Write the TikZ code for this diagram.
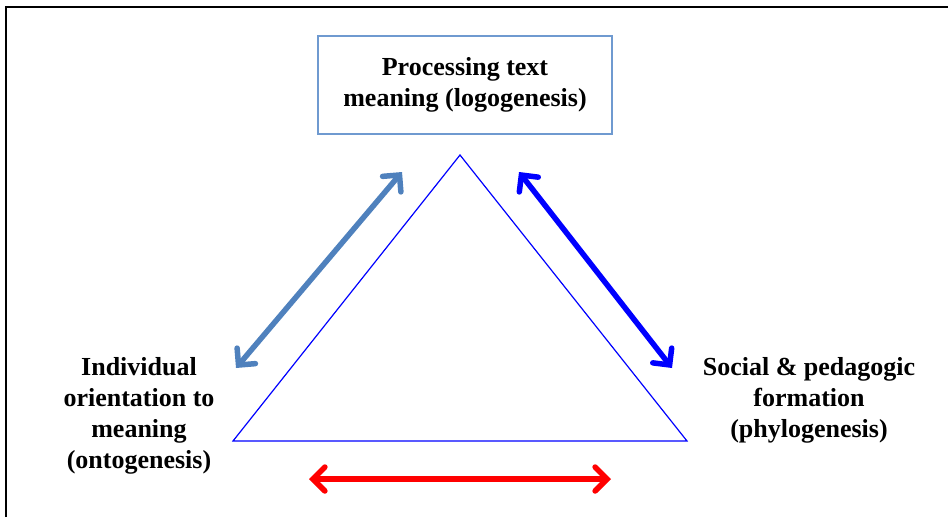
\documentclass[tikz,border=0pt]{standalone}
\usepackage{fontspec}
\setmainfont{Liberation Serif}
\usetikzlibrary{arrows.meta,positioning,calc}
\definecolor{boxline}{HTML}{6F9AD0}
\definecolor{steel}{HTML}{4F81BD}
\definecolor{tri}{HTML}{0000FF}
\definecolor{hot}{HTML}{FF0000}

\begin{document}
\begin{tikzpicture}[
  x=1pt, y=-1pt,
  font=\fontsize{26}{31}\selectfont\bfseries,
  label/.style={align=center, inner sep=0pt},
  topbox/.style={draw=boxline, line width=1.5pt, align=center,
    minimum width=294pt, minimum height=98pt, inner sep=0pt},
  dbl/.style={{Straight Barb[length=12pt,width=24pt,line cap=round]}-{Straight Barb[length=12pt,width=24pt,line cap=round]},
    line width=5.5pt, line cap=round}
]
\useasboundingbox (0,0) rectangle (948,517);

% frame
\draw[line width=1.5pt] (6,517) -- (6,7) -- (948,7);

% corners
\node[topbox] (logo) at (465,85) {Processing text\\meaning (logogenesis)};
\node[label] (onto) at (139,416) {Individual\\orientation to\\meaning\\(ontogenesis)};
\node[label] (phylo) at (809,400) {Social \& pedagogic\\formation\\(phylogenesis)};

% triangle
\coordinate (apex) at (460,155);
\coordinate (bl) at (233,441);
\coordinate (br) at (687,441);
\draw[tri, line width=1.2pt, line join=miter] (apex) -- (br) -- (bl) -- cycle;

% arrows
\coordinate (la) at (236,368);
\coordinate (lb) at (402,172);
\coordinate (ra) at (519,172);
\coordinate (rb) at (672,368);
\coordinate (ba) at (309,479);
\coordinate (bb) at (611,479);
\draw[dbl, steel] (la) -- (lb);
\draw[dbl, tri] (ra) -- (rb);
\draw[dbl, hot] (ba) -- (bb);

\end{tikzpicture}
\end{document}
